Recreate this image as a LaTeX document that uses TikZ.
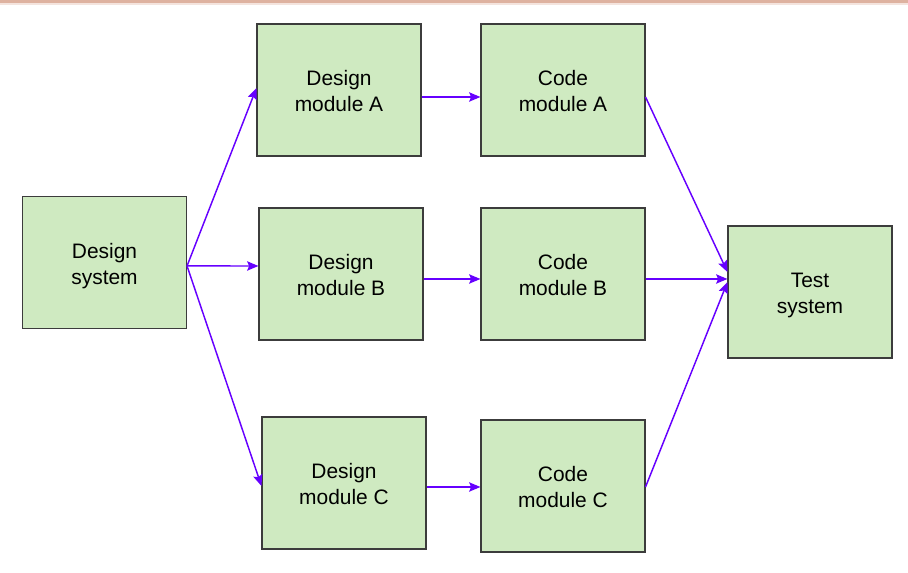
\documentclass[tikz,border=0pt]{standalone}
\usepackage{fontspec}
\setmainfont{Liberation Sans}
\usetikzlibrary{arrows.meta}
\definecolor{boxfill}{RGB}{207,234,193}
\definecolor{boxline}{RGB}{60,60,60}
\definecolor{flow}{RGB}{102,0,255}
\definecolor{topbar}{RGB}{222,178,160}
\tikzset{
  stage/.style={draw=boxline, line width=0.8pt, fill=boxfill, rectangle,
    minimum width=123pt, minimum height=99pt, align=center,
    text height=36.6pt, text depth=4pt,
    font=\fontsize{15.7pt}{19.5pt}\selectfont, inner sep=0pt},
  flowarrow/.style={draw=flow, line width=1.1pt,
    -{Stealth[length=8.5pt,width=7pt,inset=1.5pt]}}
}
\begin{document}
\begin{tikzpicture}[x=0.75pt,y=-0.75pt]
\useasboundingbox (0,0) rectangle (908,573);
\fill[topbar] (0,0) rectangle (908,3);
\fill[topbar!35] (0,3) rectangle (908,5);

\node[stage] (ds) at (104.5,262.5) {Design\\system};
\node[stage] (da) at (339,90) {Design\\module A};
\node[stage] (db) at (341,274) {Design\\module B};
\node[stage] (dc) at (344,483) {Design\\module C};
\node[stage] (ca) at (563,90) {Code\\module A};
\node[stage] (cb) at (563,274) {Code\\module B};
\node[stage] (cc) at (563,486) {Code\\module C};
\node[stage] (ts) at (810,292) {Test\\system};

\coordinate (dsout) at ([yshift=-2.6pt]ds.east);
\draw[flowarrow] (dsout) -- ([yshift=1.5pt]da.west);
\draw[flowarrow] (dsout) -- ([yshift=6pt]db.west);
\draw[flowarrow] (dsout) -- ([yshift=-2.25pt]dc.west);

\draw[flowarrow] ([yshift=-5.25pt]da.east) -- ([yshift=-5.25pt]ca.west);
\draw[flowarrow] ([yshift=-3.75pt]db.east) -- ([yshift=-3.75pt]cb.west);
\draw[flowarrow] ([yshift=-3pt]dc.east) -- ([yshift=-0.75pt]cc.west);

\draw[flowarrow] ([yshift=-5.25pt]ca.east) -- ([yshift=15pt]ts.west);
\draw[flowarrow] ([yshift=-3.75pt]cb.east) -- ([yshift=9.75pt]ts.west);
\draw[flowarrow] ([yshift=-0.75pt]cc.east) -- ([yshift=7.5pt]ts.west);
\end{tikzpicture}
\end{document}
